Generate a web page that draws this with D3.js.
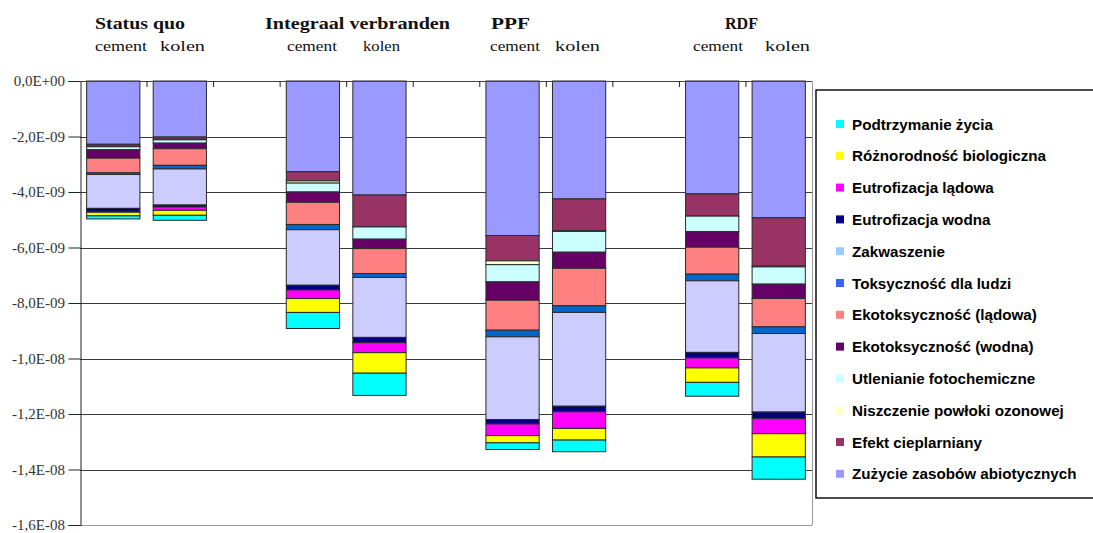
<!DOCTYPE html>
<html>
<head>
<meta charset="utf-8">
<script src="https://cdn.jsdelivr.net/npm/d3@7"></script>
<style>
html,body{margin:0;padding:0;background:#fff;}
svg{display:block;}
.ylab{font-family:"Liberation Serif","Times New Roman",serif;font-size:15px;fill:#333;}
</style>
</head>
<body>
<svg id="chart" width="1093" height="533"></svg>
<script>
// ---- DATA ----
const groups = ["Status quo", "Integraal verbranden", "PPF", "RDF"];
const fuels = ["cement", "kolen"];
// slots along the category axis (empty slots separate the groups)
const slots = ["SQ-cement","SQ-kolen","gap1","IV-cement","IV-kolen","gap2","PPF-cement","PPF-kolen","gap3","RDF-cement","RDF-kolen"];
const bars = ["SQ-cement","SQ-kolen","IV-cement","IV-kolen","PPF-cement","PPF-kolen","RDF-cement","RDF-kolen"];
// series in stacking order from 0 downward; values in units of 1E-09 (negative impacts)
const seriesNames = [
  "Zużycie zasobów abiotycznych","Efekt cieplarniany","Niszczenie powłoki ozonowej",
  "Utlenianie fotochemiczne","Ekotoksyczność (wodna)","Ekotoksyczność (lądowa)",
  "Toksyczność dla ludzi","Zakwaszenie","Eutrofizacja wodna","Eutrofizacja lądowa",
  "Różnorodność biologiczna","Podtrzymanie życia"];
const zuzycie      = [-2.28, -2.02, -3.27, -4.11, -5.57, -4.25, -4.07, -4.93];
const efekt        = [-0.07, -0.08, -0.33, -1.14, -0.91, -1.14, -0.79, -1.73];
const niszczenie   = [-0.02, -0.02, -0.08, -0.01, -0.14, -0.03, -0.01, -0.04];
const utlenianie   = [-0.11, -0.12, -0.32, -0.44, -0.62, -0.75, -0.56, -0.62];
const ekoWodna     = [-0.30, -0.20, -0.37, -0.34, -0.66, -0.58, -0.56, -0.52];
const ekoLadowa    = [-0.53, -0.60, -0.80, -0.90, -1.08, -1.35, -0.97, -1.02];
const toksycznosc  = [-0.06, -0.13, -0.19, -0.14, -0.24, -0.24, -0.24, -0.24];
const zakwaszenie  = [-1.22, -1.30, -2.00, -2.16, -2.98, -3.38, -2.58, -2.83];
const eutWodna     = [-0.11, -0.07, -0.17, -0.19, -0.16, -0.20, -0.20, -0.24];
const eutLadowa    = [-0.03, -0.12, -0.31, -0.36, -0.42, -0.60, -0.36, -0.54];
const roznorodnosc = [-0.13, -0.18, -0.50, -0.74, -0.26, -0.42, -0.52, -0.84];
const podtrzymanie = [-0.11, -0.18, -0.58, -0.80, -0.24, -0.42, -0.50, -0.80];
const seriesValues = [zuzycie, efekt, niszczenie, utlenianie, ekoWodna, ekoLadowa,
  toksycznosc, zakwaszenie, eutWodna, eutLadowa, roznorodnosc, podtrzymanie];
const yTicks = [0, -2, -4, -6, -8, -10, -12, -14, -16];
const yTickLabels = ["0,0E+00","-2,0E-09","-4,0E-09","-6,0E-09","-8,0E-09","-1,0E-08","-1,2E-08","-1,4E-08","-1,6E-08"];
// legend order (top to bottom)
const legendOrder = [11,10,9,8,7,6,5,4,3,2,1,0];

// ---- STYLE ----
const barColors = ["#9999FF","#993366","#FFFFCC","#CCFFFF","#660066","#FF8080",
  "#0066CC","#CCCCFF","#000080","#FF00FF","#FFFF00","#00FFFF"];
const legendColors = ["#9999FF","#993366","#FFFFCC","#CCFFFF","#660066","#FF8080",
  "#3366FF","#99CCFF","#000080","#FF00FF","#FFFF00","#00FFFF"];

(function(){
const svg = d3.select("#chart");
const pLeft = 80, pRight = 812, pTop = 81, pBottom = 525;
const serif = "Liberation Serif, Times New Roman, serif";

const x = d3.scaleBand().domain(slots).range([pLeft, pRight]).padding(0);
const y = d3.scaleLinear().domain([0, -16]).range([pTop, pBottom]);
const bw = x.bandwidth() * 0.8;

// gridlines
svg.append("g").selectAll("line").data(yTicks).join("line")
  .attr("x1", pLeft).attr("x2", pRight)
  .attr("y1", d => Math.round(y(d)) + 0.5).attr("y2", d => Math.round(y(d)) + 0.5)
  .attr("stroke", (d, i) => i === yTicks.length - 1 ? "#9a9a9a" : "#3a3a3a")
  .attr("stroke-width", 1);

// plot area right edge
svg.append("line").attr("x1", pRight + 0.5).attr("x2", pRight + 0.5)
  .attr("y1", pTop).attr("y2", pBottom).attr("stroke", "#9a9a9a");

// y axis (ticks and line from d3.axisLeft, labels drawn as own text)
const yAxis = d3.axisLeft(y).tickValues(yTicks).tickSize(12).tickFormat("");
const ya = svg.append("g").attr("transform", `translate(${pLeft + 0.5},0)`).call(yAxis);
ya.select(".domain").attr("stroke", "#222");
ya.selectAll(".tick line").attr("stroke", "#222");
svg.append("g").selectAll("text").data(yTicks).join("text")
  .attr("class", "ylab")
  .attr("x", 65).attr("y", d => y(d) + 5)
  .attr("text-anchor", "end")
  .text((d, i) => yTickLabels[i]);

// stacked bars
const stackData = bars.map((b, j) => {
  let acc = 0;
  return seriesValues.map((vals, s) => {
    const y0 = acc; acc += vals[j];
    return { bar: b, s, y0, y1: acc };
  });
});
svg.append("g").selectAll("g").data(stackData).join("g")
  .selectAll("rect").data(d => d).join("rect")
  .attr("x", d => x(d.bar) + (x.bandwidth() - bw) / 2)
  .attr("width", bw)
  .attr("y", d => y(d.y0))
  .attr("height", d => y(d.y1) - y(d.y0))
  .attr("fill", d => barColors[d.s])
  .attr("stroke", "#2a2a2a").attr("stroke-width", 1);

// top category axis line with ticks at slot boundaries
svg.append("line").attr("x1", pLeft).attr("x2", pRight)
  .attr("y1", pTop + 0.5).attr("y2", pTop + 0.5).attr("stroke", "#444");
const bounds = slots.slice(1).map(s => x(s));
svg.append("g").selectAll("line").data(bounds).join("line")
  .attr("x1", d => d + 0.5).attr("x2", d => d + 0.5)
  .attr("y1", pTop).attr("y2", pTop + 6).attr("stroke", "#222");

// headers
const headerPos = [[95, 90], [265, 185], [491, 39], [725, 33]];
svg.append("g").selectAll("text").data(groups).join("text")
  .attr("x", (d, i) => headerPos[i][0]).attr("y", 29)
  .attr("textLength", (d, i) => headerPos[i][1]).attr("lengthAdjust", "spacingAndGlyphs")
  .style("font-family", serif).attr("font-weight", "bold").attr("font-size", 16.5)
  .attr("fill", "#111").text(d => d);
const subPos = [[95, 52], [160, 45], [287, 50], [363, 37], [490, 50], [555, 45], [693, 50], [765, 45]];
const subLabels = groups.flatMap(() => fuels);
svg.append("g").selectAll("text").data(subLabels).join("text")
  .attr("x", (d, i) => subPos[i][0]).attr("y", 51)
  .attr("textLength", (d, i) => subPos[i][1]).attr("lengthAdjust", "spacingAndGlyphs")
  .style("font-family", serif).attr("font-size", 15)
  .attr("fill", "#111").text(d => d);

// legend
const lg = svg.append("g");
lg.append("rect").attr("x", 816).attr("y", 90).attr("width", 300).attr("height", 408)
  .attr("fill", "#fff").attr("stroke", "#111").attr("stroke-width", 1.5);
const items = lg.selectAll("g.item").data(legendOrder).join("g")
  .attr("transform", (d, i) => `translate(0,${124 + i * 31.8})`);
items.append("rect").attr("x", 836).attr("y", -4).attr("width", 8).attr("height", 8)
  .attr("fill", d => legendColors[d]);
items.append("text").attr("x", 852).attr("y", 5.5)
  .style("font-family", "Liberation Sans, Arial, sans-serif").attr("font-weight", "bold")
  .attr("font-size", 15.2).attr("fill", "#000").text(d => seriesNames[d]);
})();
</script>
</body>
</html>
